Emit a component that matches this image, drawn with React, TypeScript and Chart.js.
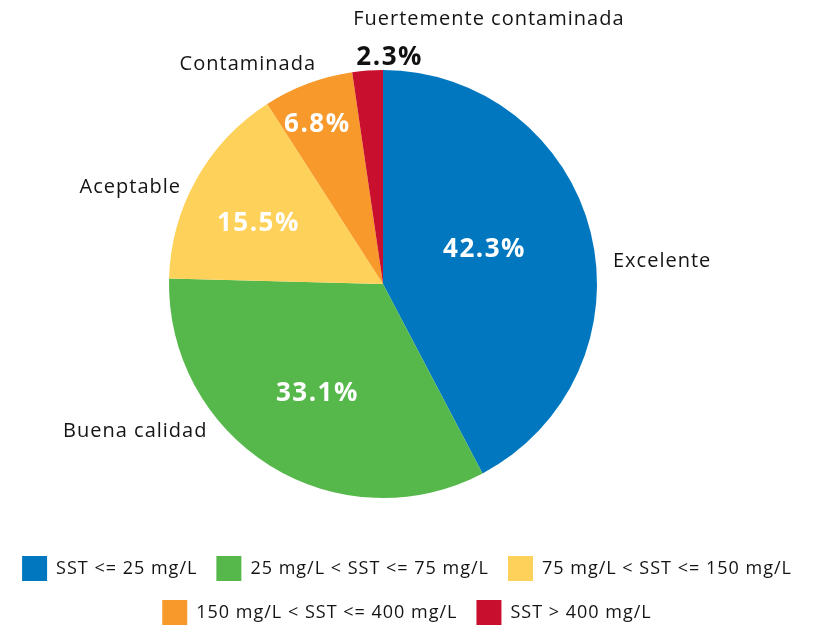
import React, { useEffect, useRef } from "react";
import { Chart, registerables } from "chart.js";

Chart.register(...registerables);

// ---- data ----
const categories = ["Excelente", "Buena calidad", "Aceptable", "Contaminada", "Fuertemente contaminada"];
const legendLabels = [
  "SST <= 25 mg/L",
  "25 mg/L < SST <= 75 mg/L",
  "75 mg/L < SST <= 150 mg/L",
  "150 mg/L < SST <= 400 mg/L",
  "SST > 400 mg/L",
];
const percentages = [42.3, 33.1, 15.5, 6.8, 2.3];
const colors = ["#0077BF", "#56B84B", "#FED25A", "#F8992B", "#C8102E"];

// ---- label layout (angle offset from slice middle in degrees, distance as fraction of radius) ----
const valueLabelLayout = [
  { da: -6.1, r: 0.505, color: "#ffffff" },
  { da: -0.4, r: 0.587, color: "#ffffff" },
  { da: -2.6, r: 0.652, color: "#ffffff" },
  { da: -1.6, r: 0.815, color: "#ffffff" },
  { da: 5.8, r: 1.07, color: "#111111" },
];
const nameLabelLayout: { da: number; r: number; align: CanvasTextAlign }[] = [
  { da: 8.2, r: 1.08, align: "left" },
  { da: 18.2, r: 1.07, align: "right" },
  { da: -3.7, r: 1.047, align: "right" },
  { da: 3.6, r: 1.075, align: "right" },
  { da: 25.9, r: 1.334, align: "center" },
];
const VALUE_DY = 2;
const PIE_CX = 383;
const PIE_CY = 284;
const PIE_R = 214;
const FONT = "'Open Sans', 'Noto Sans', sans-serif";

const spacingPlugin = {
  id: "letterSpacing",
  beforeLayout(chart: any) {
    chart.ctx.letterSpacing = "1px";
  },
  beforeDraw(chart: any) {
    chart.ctx.letterSpacing = "1px";
  },
};

const areaPlugin = {
  id: "pieArea",
  afterLayout(chart: any) {
    const a = chart.chartArea;
    a.left = PIE_CX - PIE_R;
    a.right = PIE_CX + PIE_R;
    a.top = PIE_CY - PIE_R;
    a.bottom = PIE_CY + PIE_R;
    a.width = 2 * PIE_R;
    a.height = 2 * PIE_R;
  },
};

const labelPlugin = {
  id: "sliceLabels",
  afterDatasetsDraw(chart: any) {
    const ctx: CanvasRenderingContext2D = chart.ctx;
    const meta = chart.getDatasetMeta(0);
    meta.data.forEach((arc: any, i: number) => {
      const mid = (arc.startAngle + arc.endAngle) / 2;
      const R = arc.outerRadius;
      // value label
      const v = valueLabelLayout[i];
      const tv = mid + (v.da * Math.PI) / 180;
      ctx.save();
      (ctx as any).letterSpacing = "1.5px";
      ctx.font = `bold 26px ${FONT}`;
      ctx.fillStyle = v.color;
      ctx.textAlign = "center";
      ctx.textBaseline = "middle";
      ctx.fillText(
        percentages[i].toFixed(1) + "%",
        arc.x + v.r * R * Math.cos(tv),
        arc.y + v.r * R * Math.sin(tv) + VALUE_DY
      );
      ctx.restore();
      // category label
      const n = nameLabelLayout[i];
      const tn = mid + (n.da * Math.PI) / 180;
      ctx.save();
      (ctx as any).letterSpacing = "1px";
      ctx.font = `20px ${FONT}`;
      ctx.fillStyle = "#141414";
      ctx.textAlign = n.align;
      ctx.textBaseline = "middle";
      ctx.fillText(categories[i], arc.x + n.r * R * Math.cos(tn), arc.y + n.r * R * Math.sin(tn));
      ctx.restore();
    });
  },
};

export default function App() {
  const ref = useRef<HTMLCanvasElement>(null);
  useEffect(() => {
    if (!ref.current) return;
    const chart = new Chart(ref.current, {
      type: "pie",
      data: {
        labels: legendLabels,
        datasets: [
          {
            data: percentages,
            backgroundColor: colors,
            borderWidth: 0,
          },
        ],
      },
      options: {
        animation: false,
        responsive: true,
        maintainAspectRatio: false,
        layout: { padding: 0 },
        plugins: {
          tooltip: { enabled: false },
          legend: {
            position: "bottom",
            labels: {
              boxWidth: 25,
              boxHeight: 25,
              padding: 19,
              color: "#141414",
              font: { family: FONT, size: 18 },
            },
          },
        },
      },
      plugins: [spacingPlugin, areaPlugin, labelPlugin],
    });
    return () => chart.destroy();
  }, []);
  return (
    <div style={{ position: "fixed", left: 0, top: 0, width: 814, height: 635, background: "#fff" }}>
      <canvas ref={ref} />
    </div>
  );
}
